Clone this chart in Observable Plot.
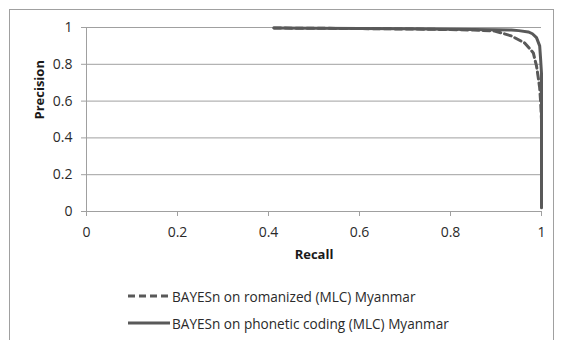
<!DOCTYPE html>
<html><head><meta charset="utf-8">
<script src="https://cdn.jsdelivr.net/npm/d3@7"></script>
<script src="https://cdn.jsdelivr.net/npm/@observablehq/plot@0.6"></script>
<style>
body{margin:0;background:#fff;font-family:"Open Sans",sans-serif;overflow:hidden;}
#frame{position:absolute;left:9px;top:9px;width:545px;height:400px;border:1px solid #a0a0a0;box-sizing:border-box;}
#chart{position:absolute;left:0;top:0;}
.lg{position:absolute;left:128px;height:20px;display:flex;align-items:center;font-size:13.6px;color:#2a2a2a;white-space:nowrap;}
.lg svg{margin-right:2px;}
</style></head>
<body>
<div id="frame"></div>
<div id="chart"></div>
<div id="legend"></div>
<script>
const seriesNames = ["BAYESn on romanized (MLC) Myanmar", "BAYESn on phonetic coding (MLC) Myanmar"];
const recallRomanized    = [0.412, 0.5, 0.6, 0.7, 0.8, 0.85, 0.897, 0.934, 0.963, 0.982, 0.989, 0.993, 0.996, 0.998, 1.0];
const precisionRomanized = [0.997, 0.996, 0.994, 0.992, 0.989, 0.986, 0.981, 0.954, 0.916, 0.862, 0.791, 0.726, 0.672, 0.6, 0.5];
const recallPhonetic     = [0.412, 0.5, 0.6, 0.7, 0.8, 0.9, 0.934, 0.95, 0.971, 0.98, 0.989, 0.996, 0.998, 1.0, 1.0, 1.0];
const precisionPhonetic  = [0.997, 0.996, 0.995, 0.993, 0.991, 0.988, 0.986, 0.983, 0.976, 0.966, 0.945, 0.9, 0.83, 0.75, 0.4, 0.02];
const xTicks = [0, 0.2, 0.4, 0.6, 0.8, 1];
const xTickLabels = ["0", "0.2", "0.4", "0.6", "0.8", "1"];
const yTicks = [0, 0.2, 0.4, 0.6, 0.8, 1];
const yTickLabels = ["0", "0.2", "0.4", "0.6", "0.8", "1"];
const xTitle = "Recall";
const yTitle = "Precision";

const romanized = recallRomanized.map((r, i) => ({recall: r, precision: precisionRomanized[i]}));
const phonetic = recallPhonetic.map((r, i) => ({recall: r, precision: precisionPhonetic[i]}));

const grid = "#a0a0a0";
const lineColor = "#595959";

const chart = Plot.plot({
  width: 562,
  height: 270,
  marginLeft: 86,
  marginRight: 21,
  marginTop: 27,
  marginBottom: 59,
  style: {fontFamily: "'Open Sans', sans-serif", fontSize: "14px", color: "#2a2a2a", background: "transparent"},
  x: {domain: [0, 1]},
  y: {domain: [0, 1]},
  marks: [
    Plot.ruleY(yTicks.filter(d => d > 0), {stroke: grid, strokeWidth: 1}),
    Plot.ruleX([0], {stroke: grid}),
    Plot.ruleY([0], {stroke: grid}),
    Plot.axisX({ticks: xTicks, tickSize: 5, tickPadding: 11, stroke: grid, fill: "#2a2a2a", label: null, fontSize: 14,
      tickFormat: (d) => xTickLabels[xTicks.indexOf(d)]}),
    Plot.axisY({ticks: yTicks, tickSize: 5, tickPadding: 9, stroke: grid, fill: "#2a2a2a", label: null, fontSize: 14,
      tickFormat: (d) => yTickLabels[yTicks.indexOf(d)]}),
    Plot.line(romanized, {x: "recall", y: "precision", stroke: lineColor, strokeWidth: 3, strokeDasharray: "7,4"}),
    Plot.line(phonetic, {x: "recall", y: "precision", stroke: lineColor, strokeWidth: 3}),
    Plot.text([xTitle], {frameAnchor: "bottom", dy: 43, text: d => d, fontWeight: "bold", fontSize: 13, fill: "#1a1a1a", lineAnchor: "middle"}),
    Plot.text([yTitle], {frameAnchor: "left", dx: -47, rotate: -90, text: d => d, fontWeight: "bold", fontSize: 13, fill: "#1a1a1a", lineAnchor: "middle"})
  ]
});
document.getElementById("chart").appendChild(chart);

const legend = document.getElementById("legend");
const rowsY = [286, 313];
seriesNames.forEach((name, i) => {
  const row = document.createElement("div");
  row.className = "lg";
  row.style.top = rowsY[i] + "px";
  const dash = i === 0 ? 'stroke-dasharray="7,4"' : '';
  row.innerHTML = `<svg width="42" height="6"><line x1="0" y1="3" x2="42" y2="3" stroke="${lineColor}" stroke-width="3" ${dash}/></svg><span>${name}</span>`;
  legend.appendChild(row);
});
</script>
</body></html>
